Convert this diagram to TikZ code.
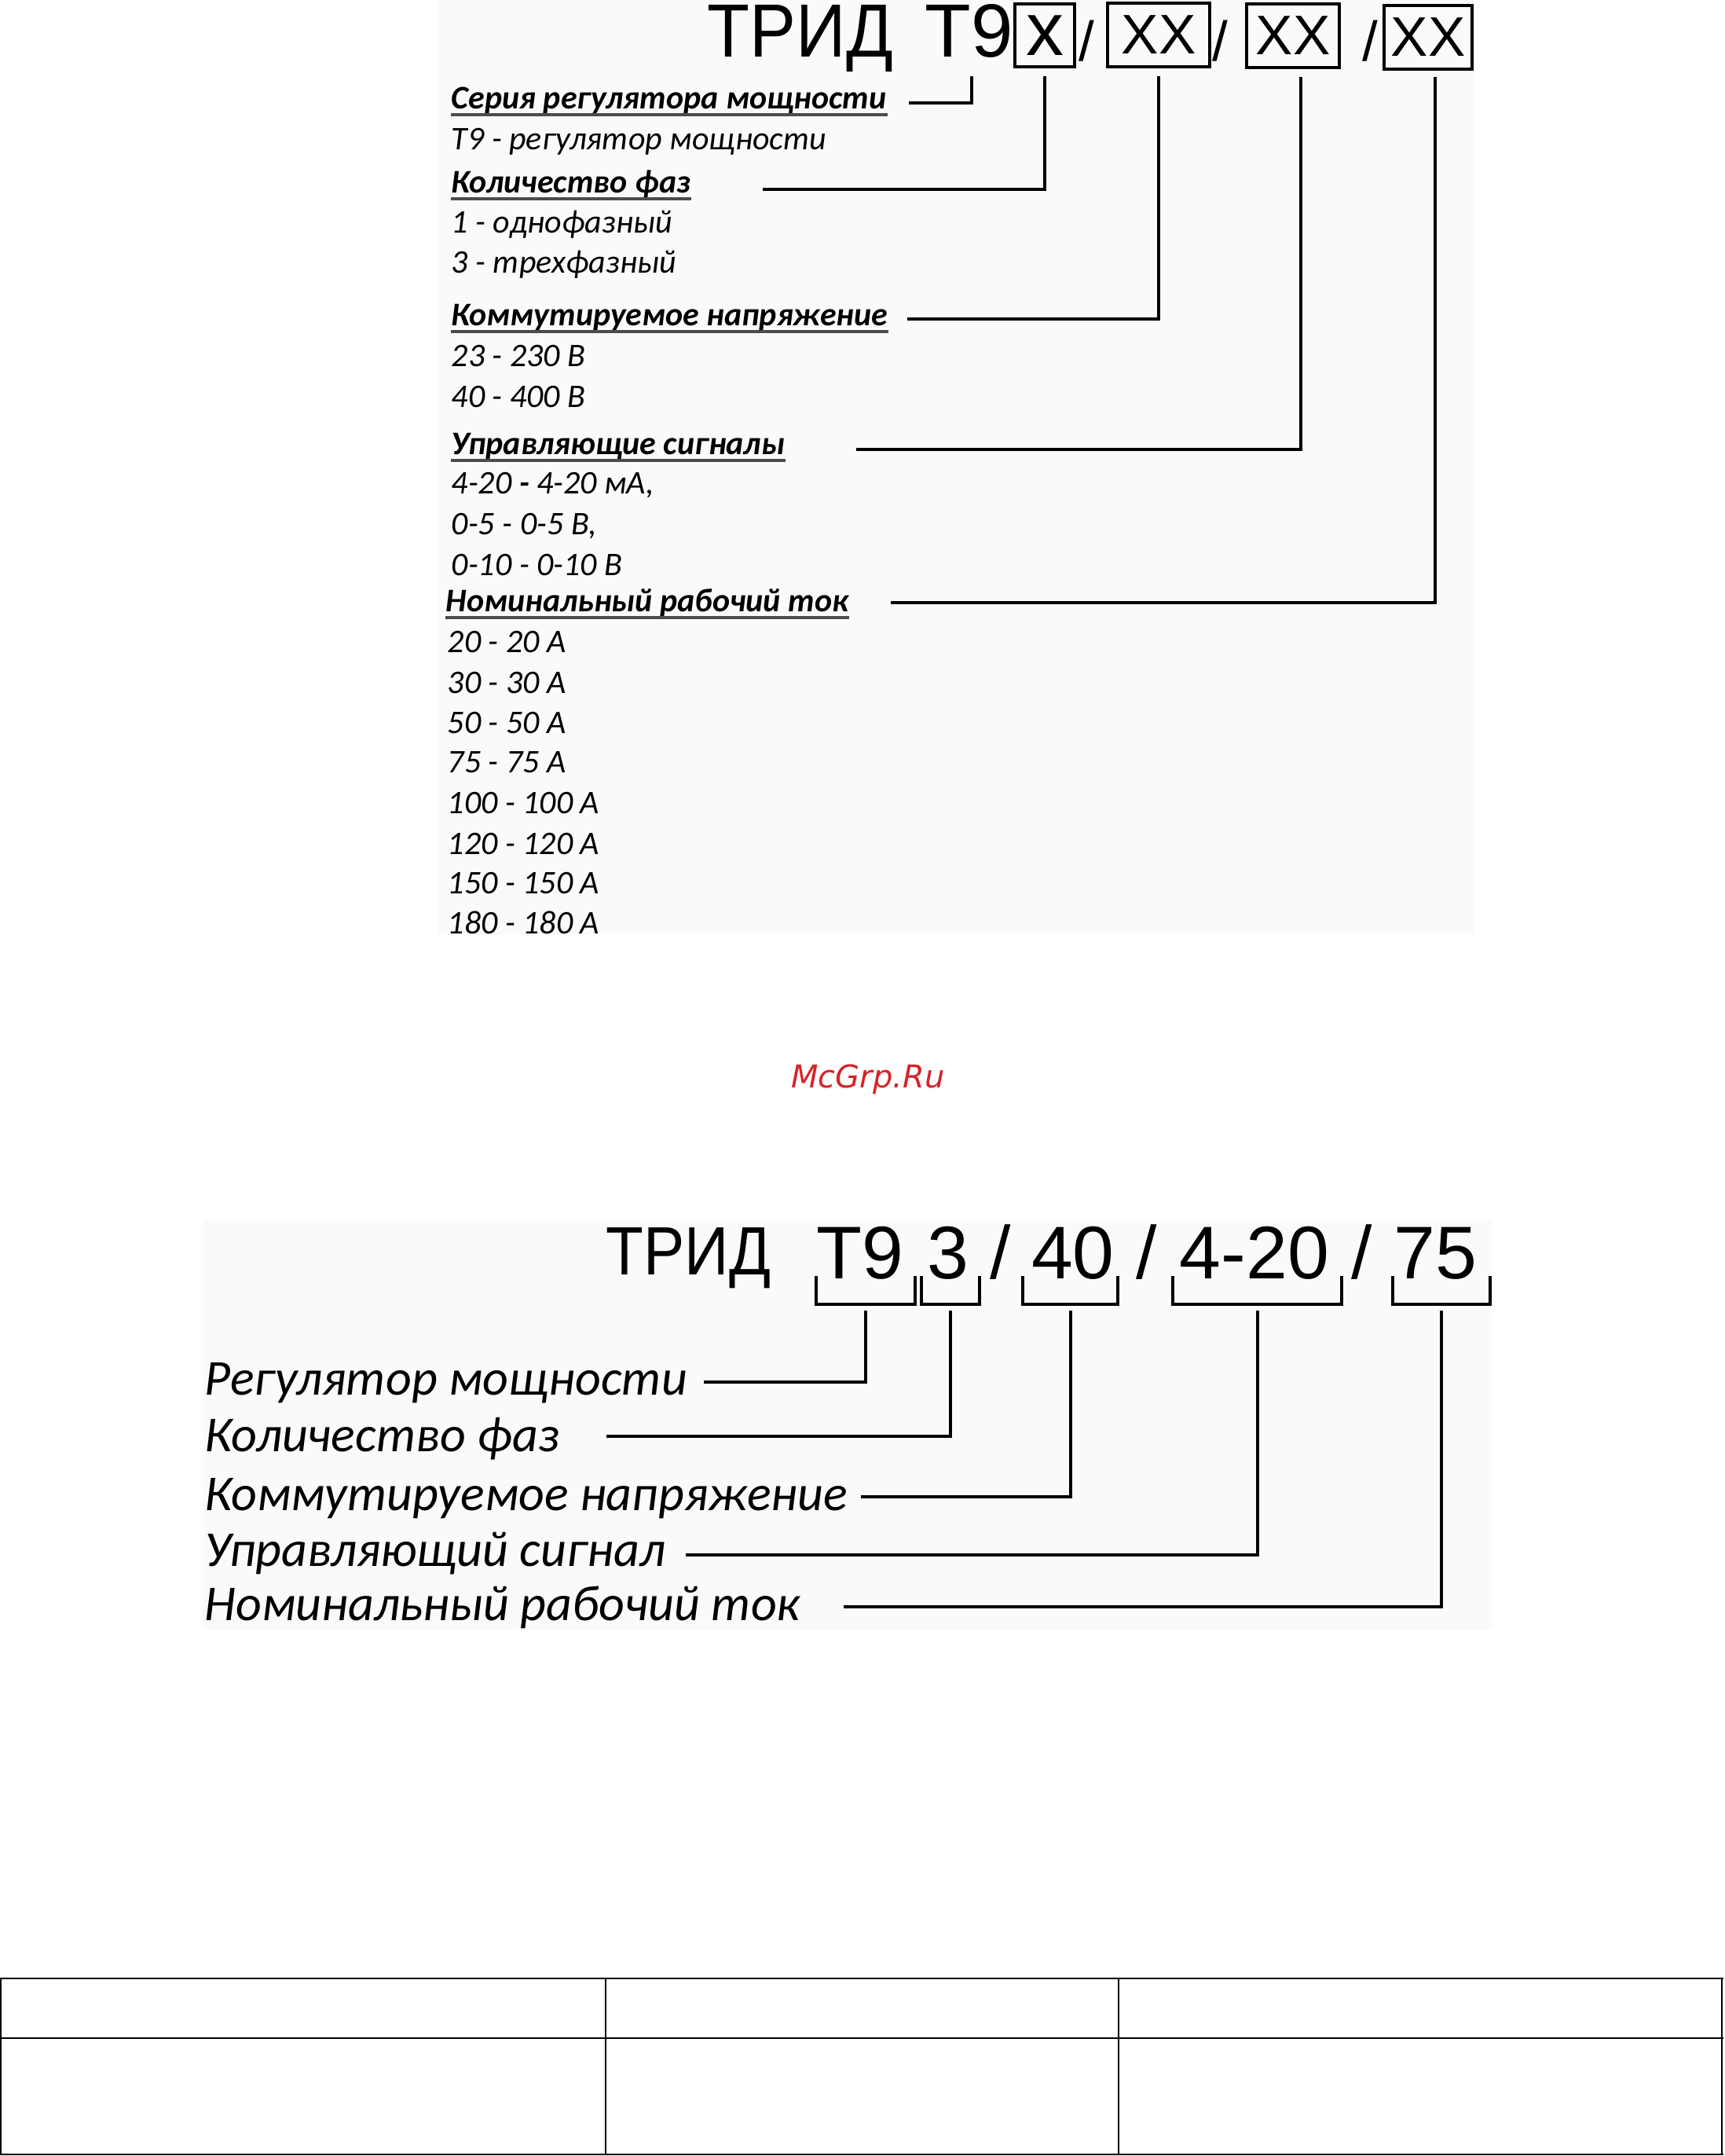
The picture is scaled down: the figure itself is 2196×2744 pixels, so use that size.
\documentclass[tikz,border=0pt]{standalone}
\usepackage{fontspec}
\usepackage{graphicx}
\setmainfont{Carlito}
\newfontfamily\hdrfont{Liberation Sans}
\newfontfamily\wmfont{DejaVu Sans}
\definecolor{wmred}{RGB}{214,35,40}
\tikzset{
  lst/.style={anchor=base west,inner sep=0pt,font=\fontsize{10.5}{13}\selectfont\itshape},
  hd/.style={lst,font=\fontsize{10.5}{13}\selectfont\bfseries\itshape},
  big/.style={anchor=base west,inner sep=0pt,font=\hdrfont\fontsize{24}{28}\selectfont},
  cbox/.style={draw,line width=1pt,inner sep=0pt,font=\hdrfont\fontsize{17.75}{20}\selectfont},
  sl/.style={anchor=base,inner sep=0pt,font=\hdrfont\fontsize{17.75}{20}\selectfont},
  code/.style={anchor=base,inner sep=0pt,font=\hdrfont\fontsize{23.75}{28}\selectfont},
  lbl/.style={anchor=base west,inner sep=0pt,font=\fontsize{16}{19}\selectfont\itshape},
  lnk/.style={line width=0.9pt},
  lnkb/.style={line width=1pt},
}
\begin{document}
\begin{tikzpicture}[x=0.25pt,y=-0.25pt]
\useasboundingbox (0,0) rectangle (2196,2744);
\fill[black!2] (557,0) rectangle (1876,1190);
\fill[black!2] (259,1554) rectangle (1899,2074);

% code of the type, top
\node[big] (trid) at (900,72) {\scalebox{0.92}[1]{ТРИД}};
\node[big] (t9) at (1177,72) {Т9};
\node[cbox,minimum width=19pt,minimum height=20pt,font=\hdrfont\fontsize{24}{28}\selectfont] (b1) at (1330,45) {x};
\node[cbox,minimum width=32.5pt,minimum height=20.25pt] (b2) at (1475,44.5) {XX};
\node[cbox,minimum width=29.5pt,minimum height=20.25pt] (b3) at (1646,45.5) {XX};
\node[cbox,minimum width=28pt,minimum height=20.25pt] (b4) at (1818,47.5) {XX};
\node[sl] (s1) at (1383,77) {/};
\node[sl] (s2) at (1553,77) {/};
\node[sl] (s3) at (1744,77) {/};

% list of values
\foreach \y/\t in {138/Серия регулятора мощности,245/Количество фаз,414/Коммутируемое напряжение,578/Управляющие сигналы}
  \node[hd] (h\y) at (574,\y) {\t};
\node[hd] (h778) at (567,778) {Номинальный рабочий ток};
\foreach \h in {138,245,414,578,778}
  \draw[black!70,line width=0.8pt] ([yshift=-2pt]h\h.base west) -- ([yshift=-2pt]h\h.base east);
\foreach \y/\t in {190/Т9 - регулятор мощности,296/1 - однофазный,347/3 - трехфазный,466/23 - 230 В,518/40 - 400 В,680/{0-5 - 0-5 В,},732/0-10 - 0-10 В}
  \node[lst] (v\y) at (574,\y) {\t};
\node[lst] (v628) at (574,628) {4-20 \textbf{-} 4-20 мА,};
\foreach \y/\t in {830/20 - 20 А,882/30 - 30 А,933/50 - 50 А,983/75 - 75 А,1035/100 - 100 А,1087/120 - 120 А,1137/150 - 150 А,1188/180 - 180 А}
  \node[lst] (v\y) at (569,\y) {\t};

\coordinate (serA) at (1237,97);
\coordinate (serB) at (1157,131);
\coordinate (qtyB) at (971,241);
\coordinate (volB) at (1155,406);
\coordinate (sigB) at (1090,572);
\coordinate (curB) at (1134,767);
\draw[lnk] (serA) |- (serB);
\draw[lnk] ([yshift=-2.5pt]b1.south) |- (qtyB);
\draw[lnk] ([yshift=-2.5pt]b2.south) |- (volB);
\draw[lnk] ([xshift=2.5pt,yshift=-2.5pt]b3.south) |- (sigB);
\draw[lnk] ([xshift=2.25pt,yshift=-2pt]b4.south) |- (curB);

% watermark
\node[inner sep=0pt,text=wmred,font=\wmfont\itshape\fontsize{10}{12}\selectfont] (wm) at (1105,1374) {McGrp.Ru};

% example, bottom
\node[big,font=\hdrfont\fontsize{21.75}{26}\selectfont] (trid2) at (771,1622) {\scalebox{0.9}[1]{ТРИД}};
\node[code] (c1) at (1095,1627) {Т9};
\node[code] (c2) at (1207,1627) {3};
\node[code] (d1) at (1274,1627) {/};
\node[code] (c3) at (1366,1627) {40};
\node[code] (d2) at (1460,1627) {/};
\node[code] (c4) at (1597,1627) {4-20};
\node[code] (d3) at (1734,1627) {/};
\node[code] (c5) at (1827,1627) {75};
\foreach \l/\r/\n in {1039/1165/k1,1173/1247/k2,1302/1423/k3,1493/1708/k4,1773/1897/k5}{
  \draw[lnkb] (\l,1624) |- (\r,1660) -- (\r,1624);
  \coordinate (\n) at ({(\l+\r)/2},1668);
}
\node[lbl] (l1) at (260,1775) {Регулятор мощности};
\node[lbl] (l2) at (260,1847) {Количество фаз};
\node[lbl] (l3) at (260,1922) {Коммутируемое напряжение};
\node[lbl] (l4) at (260,1993) {Управляющий сигнал};
\node[lbl] (l5) at (260,2062) {Номинальный рабочий ток};
\coordinate (e1) at (896,1759);
\coordinate (e2) at (772,1828);
\coordinate (e3) at (1096,1905);
\coordinate (e4) at (873,1979);
\coordinate (e5) at (1074,2045);
\foreach \i in {1,...,5}
  \draw[lnkb] (k\i) |- (e\i);

% table
\foreach \y in {2518,2594,2742}
  \draw[line width=0.6pt] (0,\y) -- (2194,\y);
\foreach \x in {1,771,1424,2192}
  \draw[line width=0.4pt] (\x,2518) -- (\x,2742);
\end{tikzpicture}
\end{document}
